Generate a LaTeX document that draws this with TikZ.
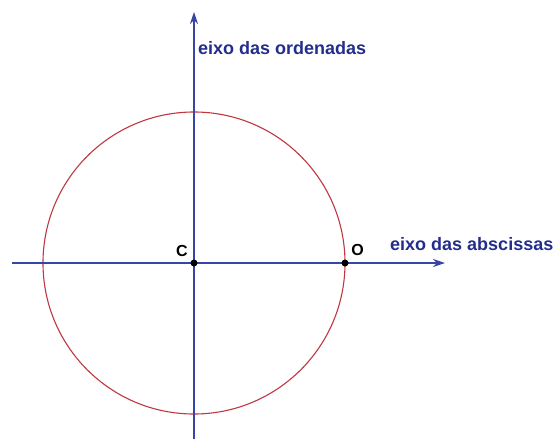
\documentclass[tikz,border=0pt]{standalone}
\usepackage{fontspec}
\setmainfont{Liberation Sans}
\usetikzlibrary{arrows.meta}
\definecolor{axisblue}{RGB}{55,70,165}
\definecolor{labelblue}{RGB}{35,45,140}
\definecolor{circred}{RGB}{190,55,65}
\tikzset{
  axis/.style={draw=axisblue, line width=1.3pt, -{Stealth[length=12pt,width=8pt]}},
  axislabel/.style={text=labelblue, font=\bfseries\fontsize{18}{22}\selectfont, inner sep=0pt, anchor=west},
  ptlabel/.style={text=black, font=\bfseries\fontsize{16}{20}\selectfont, inner sep=0pt},
  pt/.style={circle, fill=black, inner sep=0pt, minimum size=7pt}
}
\begin{document}
\begin{tikzpicture}[x=1pt,y=-1pt]
\useasboundingbox (0,0) rectangle (553,439);
\coordinate (xs) at (12,263);
\coordinate (xe) at (445,263);
\coordinate (ys) at (194,439);
\coordinate (ye) at (194,12);
\draw[circred, line width=1.1pt] (194,263) circle[radius=151];
\draw[axis] (xs) -- (xe);
\draw[axis] (ys) -- (ye);
\node[pt] (C) at (194,263) {};
\node[pt] (O) at (345,263) {};
\node[ptlabel] (Cl) at (182,251) {C};
\node[ptlabel] (Ol) at (357.5,250) {O};
\node[axislabel] (yl) at (198,48) {eixo das ordenadas};
\node[axislabel] (xl) at (390,244) {eixo das abscissas};
\end{tikzpicture}
\end{document}
